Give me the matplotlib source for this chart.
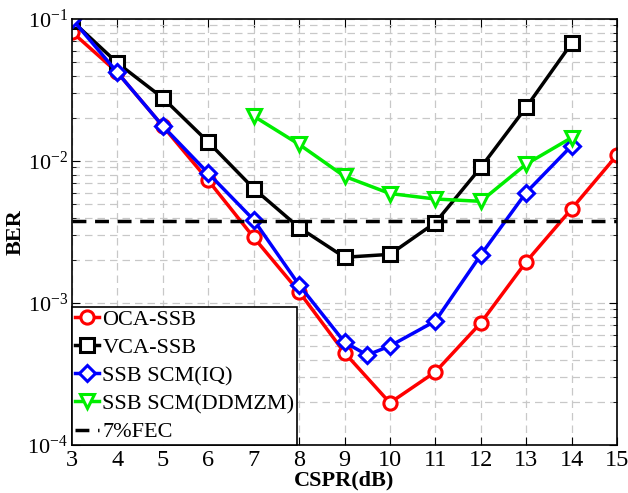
import matplotlib

matplotlib.use("Agg")
import matplotlib.pyplot as plt
from matplotlib.ticker import LogLocator, NullFormatter

cspr = [3, 4, 5, 6, 7, 8, 9, 10, 11, 12, 13, 14, 15]
oca_ber = [0.081, 0.042, 0.0176, 0.0073, 0.0029, 0.0012, 0.000447, 0.000198,
           0.000327, 0.000723, 0.00195, 0.0046, 0.011]
vca_x = [3, 4, 5, 6, 7, 8, 9, 10, 11, 12, 13, 14]
vca_ber = [0.097, 0.049, 0.0278, 0.0136, 0.0064, 0.0034, 0.0021, 0.0022,
           0.00368, 0.009, 0.0239, 0.0674]
iq_x = [3, 4, 5, 6, 7, 8, 9, 9.5, 10, 11, 12, 13, 14]
iq_ber = [0.1, 0.042, 0.0176, 0.0082, 0.00385, 0.00134, 0.00053, 0.00043,
          0.000498, 0.000746, 0.00218, 0.006, 0.0128]
ddmzm_x = [7, 8, 9, 10, 11, 12, 13, 14]
ddmzm_ber = [0.0207, 0.0131, 0.0078, 0.0059, 0.0054, 0.0052, 0.0095, 0.0146]
fec_limit = 0.0038

plt.rcParams.update({
    "font.family": "serif",
    "font.serif": ["Liberation Serif", "DejaVu Serif"],
    "mathtext.fontset": "stix",
    "font.size": 14,
})

fig = plt.figure(figsize=(6.28, 4.93), dpi=100)
ax = fig.add_axes([72 / 628, 48 / 493, 545 / 628, 426 / 493])

mk = dict(markersize=9.5, markeredgewidth=2.2, markerfacecolor="white", linewidth=2.5)
ax.plot(cspr, oca_ber, "-o", color="#ff0000", label="OCA-SSB", **mk)
ax.plot(vca_x, vca_ber, "-s", color="black", label="VCA-SSB", **mk)
ax.plot(iq_x, iq_ber, "-D", color="#0000ff", label="SSB SCM(IQ)",
        **{**mk, "markersize": 8.5})
ax.plot(ddmzm_x, ddmzm_ber, "-v", color="#00ee00", label="SSB SCM(DDMZM)",
        **{**mk, "markersize": 10.5})
ax.axhline(fec_limit, color="black", linestyle=(0, (4, 2.5)), linewidth=2.5,
           label="7%FEC")

ax.set_yscale("log")
ax.set_xlim(3, 15)
ax.set_ylim(1e-4, 1e-1)
ax.set_xticks(range(3, 16))
ax.yaxis.set_major_locator(LogLocator(base=10, numticks=10))
ax.yaxis.set_minor_locator(LogLocator(base=10, subs=range(2, 10), numticks=10))
ax.yaxis.set_minor_formatter(NullFormatter())
ax.tick_params(which="both", direction="in", top=True, right=True)
ax.tick_params(which="major", length=6)
ax.tick_params(axis="x", which="major", labelsize=17.5)
ax.tick_params(axis="y", which="major", labelsize=16, pad=3)
ax.tick_params(which="minor", length=3)
ax.grid(True, which="major", color="#c8c8c8", linestyle=(0, (6, 4)), linewidth=0.9)
ax.grid(True, which="minor", axis="y", color="#c8c8c8", linestyle=(0, (6, 4)),
        linewidth=0.9)
for s in ax.spines.values():
    s.set_linewidth(1.2)

ax.set_xlabel("CSPR(dB)", fontweight="bold", fontsize=16, labelpad=0)
ax.set_ylabel("BER", fontweight="bold", fontsize=16)
ax.yaxis.set_label_coords(-0.086, 0.5)

leg = ax.legend(loc="lower left", fontsize=16, frameon=True, fancybox=False,
                edgecolor="black", framealpha=1, borderaxespad=0,
                handlelength=1.1, handletextpad=0.15, labelspacing=0.34,
                borderpad=0.12)
leg.get_frame().set_linewidth(1.2)

fig.savefig("out.png", dpi=100)
